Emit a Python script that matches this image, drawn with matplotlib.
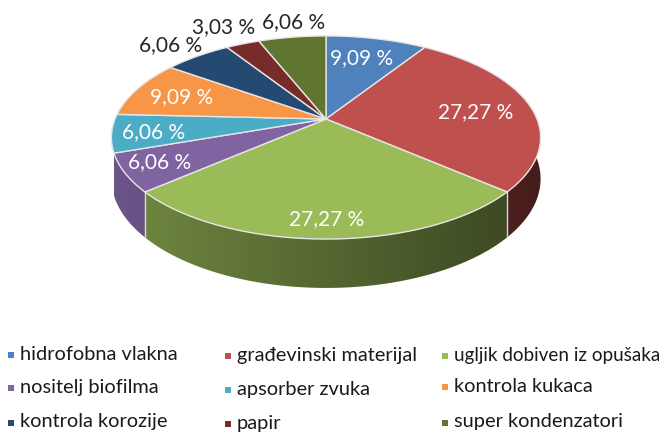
# 3d style pie of uses, drawn by hand because matplotlib has no perspective pie

import numpy as np
import matplotlib.pyplot as plt
from matplotlib.colors import to_rgb
from matplotlib.patches import Polygon

plt.rcParams["font.family"] = ["Lato", "DejaVu Sans"]

categories = ['hidrofobna vlakna', 'građevinski materijal', 'ugljik dobiven iz opušaka',
              'nositelj biofilma', 'apsorber zvuka', 'kontrola kukaca',
              'kontrola korozije', 'papir', 'super kondenzatori']
shares = [9.09, 27.27, 27.27, 6.06, 6.06, 9.09, 6.06, 3.03, 6.06]
share_labels = ['9,09 %', '27,27 %', '27,27 %', '6,06 %', '6,06 %',
                '9,09 %', '6,06 %', '3,03 %', '6,06 %']
colors = ['#4f81bd', '#c0504d', '#9bbb59', '#8064a2', '#4bacc6',
          '#f79646', '#254a72', '#772c2a', '#5f7530']

# label positions and colours, in pixels

label_x = [362, 476, 327, 160, 154, 182, 171, 224, 294]
label_y = [58, 112, 219, 162, 132, 97, 45, 27, 22]
label_colors = ['white', 'white', 'white', 'white', 'white',
                'white', '#262626', '#262626', '#262626']

legend_x = [11, 228, 445, 11, 228, 445, 11, 228, 445]
legend_y = [355, 356, 356, 388, 390, 387, 423, 424, 423]
legend_sizes = [14.4, 14.4, 13.6, 14.4, 14.4, 14.4, 14.4, 14.4, 14.4]

# perspective settings for the disc

cx, cy = 326, 119
rx, ry = 211, 98.2
k = 0.182
depth = 40


def project(theta, drop=0.0):
    # theta in degrees, clockwise from top
    u = np.sin(np.radians(theta))
    v = np.cos(np.radians(theta))
    w = 1 + k * v
    return cx + rx * u / w, cy - ry * v / w + drop / w


fig, ax = plt.subplots(figsize=(6.61, 4.34), dpi=100)
ax.set_position([0, 0, 1, 1])

edges = np.concatenate([[0], np.cumsum(shares)]) / np.sum(shares) * 360

# side wall, a horizontal gradient clipped to each visible slice
# only red, green and purple show a wall

shade = np.linspace(0.74, 0.36, 256)

for i in [1, 2, 3]:
    thetas = np.linspace(edges[i], edges[i + 1], 80)
    top_x, top_y = project(thetas)
    low_x, low_y = project(thetas[::-1], depth)
    wall = Polygon(list(zip(top_x, top_y)) + list(zip(low_x, low_y)),
                   facecolor='none', edgecolor='none', transform=ax.transData)
    ax.add_patch(wall)
    # purple wall is lighter in the original
    boost = 1.15 if i == 3 else 1.0
    grad = np.array(to_rgb(colors[i]))[None, None, :] * shade[None, :, None] * boost
    im = ax.imshow(grad, extent=[105, 545, 300, 30], aspect='auto', zorder=2,
                   interpolation='bilinear')
    im.set_clip_path(wall)

# light dividers on the wall

for e in edges[2:4]:
    x0, y0 = project(e)
    x1, y1 = project(e, depth)
    ax.plot([x0, x1], [y0, y1], color='#d9d9d9', lw=1, zorder=3)

# top face

for i in range(len(shares)):
    thetas = np.linspace(edges[i], edges[i + 1], 60)
    xs, ys = project(thetas)
    pts = [(cx, cy)] + list(zip(xs, ys))
    ax.add_patch(Polygon(pts, facecolor=colors[i], edgecolor='#e6e6e6',
                         lw=1, joinstyle='round', zorder=4))

for x, y, txt, c in zip(label_x, label_y, share_labels, label_colors):
    ax.text(x, y, txt, color=c, fontsize=15, ha='center', va='center', zorder=5)

# legend

ax.scatter(legend_x, legend_y, marker='s', s=16, color=colors, linewidths=0, zorder=5)
for x, y, txt, size in zip(legend_x, legend_y, categories, legend_sizes):
    ax.text(x + 9, y - 1, txt, color='#1a1a1a', fontsize=size, ha='left', va='center')

ax.set_xlim(0, 661)
ax.set_ylim(434, 0)
ax.axis('off')

plt.savefig("out.png", dpi=100)
